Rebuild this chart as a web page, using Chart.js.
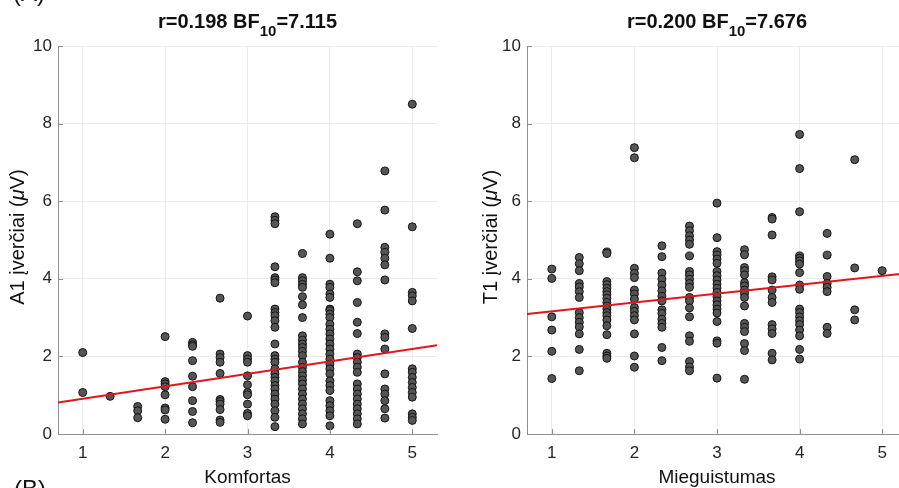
<!DOCTYPE html>
<html>
<head>
<meta charset="utf-8">
<script src="https://cdn.jsdelivr.net/npm/chart.js@4.4.0/dist/chart.umd.min.js"></script>
<style>
html, body { margin: 0; padding: 0; background: #fff; overflow: hidden; }
#wrap { position: relative; width: 899px; height: 488px; overflow: hidden; }
#left { position: absolute; left: 0; top: 0; }
#right { position: absolute; left: 450px; top: 0; }
.panel { position: absolute; font-family: 'Liberation Sans', Arial, sans-serif; font-size: 24px; line-height: 1; color: #111; }
</style>
</head>
<body>
<div id="wrap">
  <canvas id="left" width="450" height="488"></canvas>
  <canvas id="right" width="470" height="488"></canvas>
  <div class="panel" style="left:13px; top:-19px;">(A)</div>
  <div class="panel" style="left:14px; top:477px;">(B)</div>
</div>
<script>
// answer levels (mean of three items, steps of 1/3)
const levels = [1, 1.333, 1.667, 2, 2.333, 2.667, 3, 3.333, 3.667, 4, 4.333, 4.667, 5];

// A1 scores per Komfortas level
const a1ByLevel = [
  [2.10, 1.07],
  [0.97],
  [0.71, 0.60, 0.42],
  [2.51, 1.35, 1.29, 1.22, 1.01, 0.67, 0.62, 0.38],
  [2.36, 2.30, 2.26, 1.89, 1.49, 1.22, 0.86, 0.58, 0.29],
  [3.50, 2.06, 1.97, 1.85, 1.56, 0.89, 0.84, 0.77, 0.63, 0.36, 0.30],
  [3.04, 2.02, 1.93, 1.85, 1.50, 1.27, 1.07, 1.01, 0.77, 0.53, 0.47],
  [5.60, 5.51, 5.42, 4.31, 4.03, 3.97, 3.90, 3.22, 3.13, 3.05, 2.92, 2.75, 2.32, 2.02, 1.93, 1.85, 1.68, 1.55, 1.46, 1.37, 1.25, 1.16, 1.03, 0.90, 0.77, 0.60, 0.43, 0.19],
  [4.65, 4.03, 3.95, 3.86, 3.78, 3.54, 3.33, 3.00, 2.53, 2.42, 2.32, 2.23, 2.13, 2.02, 1.85, 1.72, 1.61, 1.50, 1.39, 1.29, 1.16, 1.03, 0.90, 0.77, 0.65, 0.52, 0.39, 0.26],
  [5.15, 4.53, 3.86, 3.78, 3.61, 3.52, 3.22, 3.18, 3.09, 3.00, 2.83, 2.70, 2.58, 2.45, 2.32, 2.19, 2.06, 1.93, 1.80, 1.68, 1.55, 1.37, 1.25, 1.12, 0.86, 0.73, 0.60, 0.47, 0.21],
  [5.42, 4.18, 3.95, 3.39, 2.88, 2.59, 2.06, 1.97, 1.85, 1.72, 1.59, 1.29, 1.16, 1.03, 0.90, 0.77, 0.65, 0.52, 0.39, 0.26],
  [6.78, 5.77, 4.81, 4.68, 4.53, 4.36, 3.97, 2.58, 2.49, 2.19, 1.55, 1.16, 1.03, 0.86, 0.65, 0.41],
  [8.50, 5.34, 3.65, 3.56, 3.43, 2.72, 1.68, 1.59, 1.46, 1.33, 1.20, 1.07, 0.95, 0.52, 0.43, 0.35]
];

// T1 scores per Mieguistumas level
const t1ByLevel = [
  [4.25, 4.01, 3.02, 2.68, 2.13, 1.43],
  [4.55, 4.39, 4.21, 3.88, 3.79, 3.67, 3.52, 3.13, 3.00, 2.88, 2.76, 2.58, 2.18, 1.63],
  [4.69, 4.65, 3.93, 3.85, 3.76, 3.67, 3.59, 3.50, 3.39, 3.30, 3.22, 3.13, 3.05, 2.94, 2.79, 2.56, 2.08, 2.01, 1.95],
  [7.38, 7.12, 4.27, 4.14, 4.03, 3.71, 3.61, 3.48, 3.26, 3.16, 3.05, 2.94, 2.58, 2.01, 1.72],
  [4.85, 4.57, 4.15, 3.99, 3.84, 3.69, 3.55, 3.43, 3.20, 3.11, 2.96, 2.85, 2.75, 2.23, 1.89],
  [5.36, 5.24, 5.11, 5.00, 4.89, 4.59, 4.19, 4.10, 3.99, 3.88, 3.78, 3.52, 3.43, 3.25, 3.02, 2.53, 2.39, 1.87, 1.73, 1.63],
  [5.95, 5.06, 4.70, 4.61, 4.51, 4.40, 4.19, 4.08, 3.97, 3.86, 3.76, 3.65, 3.54, 3.43, 3.33, 3.22, 3.12, 2.90, 2.40, 2.34, 1.44],
  [4.75, 4.62, 4.29, 4.21, 4.10, 3.90, 3.82, 3.71, 3.62, 3.52, 3.30, 2.85, 2.75, 2.64, 2.33, 2.15, 1.41],
  [5.58, 5.54, 5.13, 4.05, 3.97, 3.71, 3.52, 3.39, 2.82, 2.71, 2.59, 2.08, 1.91],
  [7.72, 6.84, 5.73, 4.59, 4.53, 4.46, 4.38, 4.16, 3.84, 3.73, 3.22, 3.13, 3.02, 2.92, 2.82, 2.68, 2.53, 2.18, 1.93],
  [5.17, 4.61, 4.06, 3.88, 3.78, 3.67, 2.75, 2.59],
  [7.07, 4.28, 3.20, 2.94],
  [4.21]
];

// regression line end points
const fitX = [0.7, 5.3];
const a1Fit = [0.81, 2.29];
const t1Fit = [3.09, 4.14];

const xTicks = [1, 2, 3, 4, 5];
const yTicks = [0, 2, 4, 6, 8, 10];

const FONT = "'Liberation Sans', Arial, Helvetica, sans-serif";
const axisColor = '#8f8f8f';
const textColor = '#262626';

// titles, subscripts and axis labels drawn straight on the canvas
const decor = {
  id: 'decor',
  afterDraw(chart, args, o) {
    const ctx = chart.ctx, a = chart.chartArea;
    const xs = chart.scales.x, ys = chart.scales.y;
    ctx.save();

    // small inward ticks
    ctx.strokeStyle = axisColor;
    ctx.lineWidth = 1;
    ctx.beginPath();
    xs.ticks.forEach(t => {
      const p = Math.round(xs.getPixelForValue(t.value)) + 0.5;
      ctx.moveTo(p, a.bottom); ctx.lineTo(p, a.bottom - 5);
    });
    ys.ticks.forEach(t => {
      const p = Math.round(ys.getPixelForValue(t.value)) + 0.5;
      ctx.moveTo(a.left, p); ctx.lineTo(a.left + 5, p);
    });
    ctx.stroke();

    ctx.fillStyle = '#111';
    const cx = (a.left + a.right) / 2;

    // title with subscript
    const [t1, sub, t2] = o.title;
    ctx.textBaseline = 'alphabetic';
    ctx.textAlign = 'left';
    ctx.font = 'bold 20px ' + FONT;
    const w1 = ctx.measureText(t1).width, w3 = ctx.measureText(t2).width;
    ctx.font = 'bold 15px ' + FONT;
    const w2 = ctx.measureText(sub).width;
    let x = cx - (w1 + w2 + w3) / 2;
    ctx.font = 'bold 20px ' + FONT;
    ctx.fillText(t1, x, 28);
    ctx.font = 'bold 15px ' + FONT;
    ctx.fillText(sub, x + w1, 36);
    ctx.font = 'bold 20px ' + FONT;
    ctx.fillText(t2, x + w1 + w2, 28);

    // x axis label
    ctx.font = '19px ' + FONT;
    ctx.textAlign = 'center';
    ctx.fillText(o.xLabel, cx, 483);

    // y axis label, with an italic mu
    const sz = o.yLabelSize + 'px ';
    const parts = [[o.yLabel, sz], ['\u03bc', 'italic ' + sz], ['V)', sz]];
    let total = 0;
    parts.forEach(p => { ctx.font = p[1] + FONT; p.push(ctx.measureText(p[0]).width); total += p[2]; });
    ctx.translate(o.yLabelX, 237);
    ctx.rotate(-Math.PI / 2);
    ctx.textAlign = 'left';
    let px = -total / 2;
    parts.forEach(p => { ctx.font = p[1] + FONT; ctx.fillText(p[0], px, 7); px += p[2]; });
    ctx.restore();
  }
};

function makeChart(id, groups, fit, yWidth, labels) {
  const points = [];
  groups.forEach((vals, i) => vals.forEach(v => points.push({ x: levels[i], y: v })));
  return new Chart(document.getElementById(id), {
    type: 'scatter',
    data: {
      datasets: [{
        type: 'line',
        data: fitX.map((x, i) => ({ x: x, y: fit[i] })),
        borderColor: '#e3141c',
        borderWidth: 2,
        pointRadius: 0,
        order: 0
      }, {
        data: points,
        pointRadius: 4,
        pointBackgroundColor: '#555555',
        pointBorderColor: '#141414',
        pointBorderWidth: 1,
        order: 1
      }]
    },
    options: {
      responsive: false,
      animation: false,
      events: [],
      layout: { padding: { top: 46, right: 13, left: 0, bottom: 0 } },
      scales: {
        x: {
          type: 'linear', min: 0.7, max: 5.3,
          afterBuildTicks: s => { s.ticks = xTicks.map(v => ({ value: v })); },
          afterFit: s => { s.height = 54; },
          grid: { color: '#ececec', drawTicks: false },
          border: { color: axisColor },
          ticks: { padding: 9, color: textColor, font: { family: FONT, size: 17 } }
        },
        y: {
          type: 'linear', min: 0, max: 10,
          afterBuildTicks: s => { s.ticks = yTicks.map(v => ({ value: v })); },
          afterFit: s => { s.width = yWidth; },
          grid: { color: '#ececec', drawTicks: false },
          border: { color: axisColor },
          ticks: { padding: 6, color: textColor, font: { family: FONT, size: 17 } }
        }
      },
      plugins: {
        legend: { display: false },
        tooltip: { enabled: false },
        decor: labels
      }
    },
    plugins: [decor]
  });
}

makeChart('left', a1ByLevel, a1Fit, 58, {
  title: ['r=0.198 BF', '10', '=7.115'],
  xLabel: 'Komfortas',
  yLabel: 'A1 įverčiai (',
  yLabelX: 17,
  yLabelSize: 20
});

makeChart('right', t1ByLevel, t1Fit, 77, {
  title: ['r=0.200 BF', '10', '=7.676'],
  xLabel: 'Mieguistumas',
  yLabel: 'T1 įverčiai (',
  yLabelX: 40,
  yLabelSize: 20
});
</script>
</body>
</html>
